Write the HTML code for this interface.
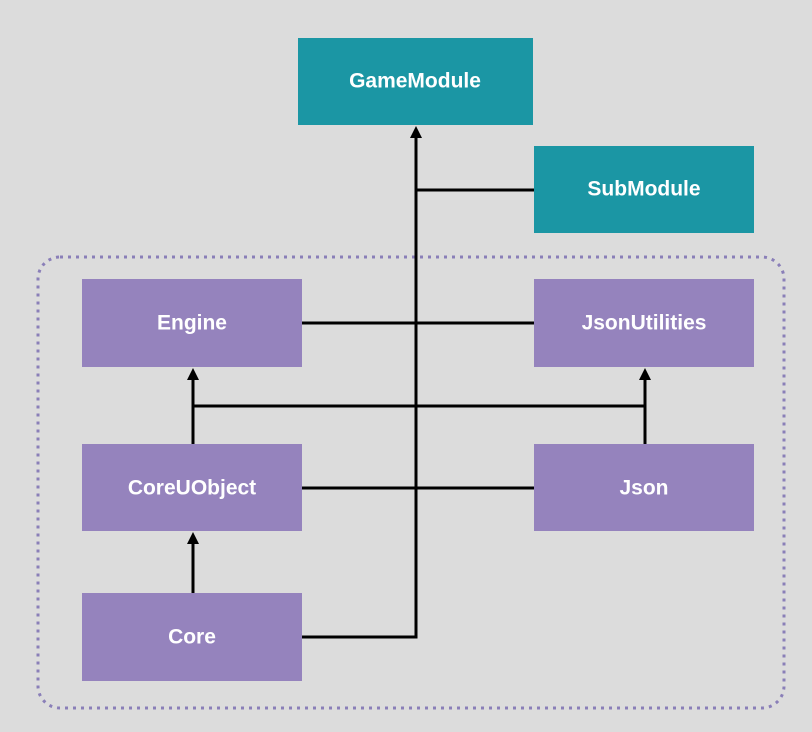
<!DOCTYPE html>
<html><head><style>
body{margin:0;background:#dcdcdc;}
svg{display:block}
text{font-family:"Liberation Sans",sans-serif;font-weight:bold;font-size:21px;fill:#fff;text-anchor:middle;dominant-baseline:central}
</style></head><body>
<svg width="812" height="732" viewBox="0 0 812 732">
<rect width="812" height="732" fill="#dcdcdc"/>
<rect x="38" y="257" width="746" height="451" rx="22" fill="none" stroke="#8a7fb8" stroke-width="3" stroke-dasharray="3 5"/>
<g stroke="#000" stroke-width="3" fill="none">
<path d="M302,637 H416 V135"/>
<path d="M416,190 H534"/>
<path d="M302,323 H534"/>
<path d="M193,406 H645"/>
<path d="M193,444 V377"/>
<path d="M645,444 V377"/>
<path d="M302,488 H534"/>
<path d="M193,593 V541"/>
</g>
<g fill="#000">
<path d="M410,138 L416,126 L422,138 Z"/>
<path d="M187,380 L193,368 L199,380 Z"/>
<path d="M639,380 L645,368 L651,380 Z"/>
<path d="M187,544 L193,532 L199,544 Z"/>
</g>
<rect x="298" y="38" width="235" height="87" fill="#1b96a4"/><text x="415" y="81">GameModule</text>
<rect x="534" y="146" width="220" height="87" fill="#1b96a4"/><text x="644" y="189">SubModule</text>
<rect x="82" y="279" width="220" height="88" fill="#9583bd"/><text x="192" y="323">Engine</text>
<rect x="534" y="279" width="220" height="88" fill="#9583bd"/><text x="644" y="323">JsonUtilities</text>
<rect x="82" y="444" width="220" height="87" fill="#9583bd"/><text x="192" y="488">CoreUObject</text>
<rect x="534" y="444" width="220" height="87" fill="#9583bd"/><text x="644" y="488">Json</text>
<rect x="82" y="593" width="220" height="88" fill="#9583bd"/><text x="192" y="637">Core</text>
</svg>
</body></html>
